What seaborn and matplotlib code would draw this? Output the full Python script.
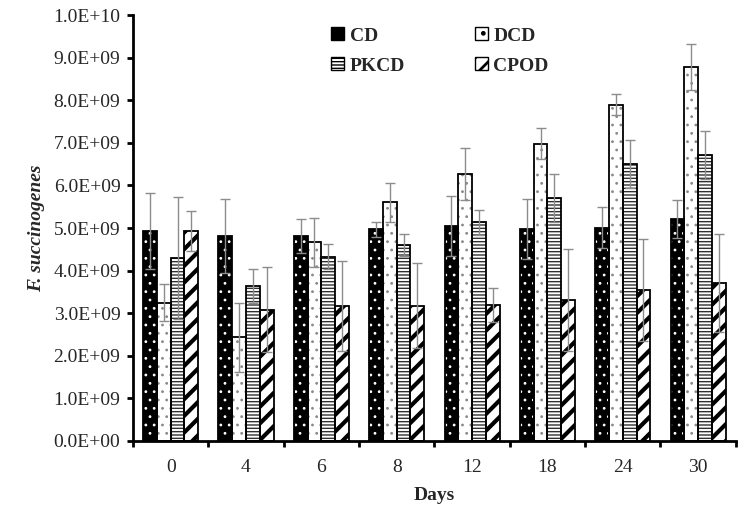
import numpy as np
import pandas as pd
import matplotlib
matplotlib.use('Agg')
import matplotlib.pyplot as plt
import seaborn as sns
from matplotlib.patches import Patch, Rectangle
from matplotlib.ticker import FuncFormatter, MultipleLocator

# data (counts, x1e9)
days = ['0', '4', '6', '8', '12', '18', '24', '30']
groups = ['CD', 'DCD', 'PKCD', 'CPOD']

cd = [4.93, 4.82, 4.82, 4.97, 5.05, 4.98, 5.01, 5.21]
cd_err = [0.90, 0.87, 0.40, 0.18, 0.70, 0.70, 0.48, 0.45]
dcd = [3.25, 2.43, 4.66, 5.60, 6.27, 6.98, 7.90, 8.78]
dcd_err = [0.44, 0.80, 0.58, 0.45, 0.62, 0.37, 0.24, 0.53]
pkcd = [4.30, 3.63, 4.33, 4.60, 5.13, 5.71, 6.50, 6.71]
pkcd_err = [1.44, 0.40, 0.30, 0.25, 0.30, 0.57, 0.57, 0.57]
cpod = [4.92, 3.08, 3.17, 3.18, 3.20, 3.31, 3.54, 3.71]
cpod_err = [0.47, 1.00, 1.05, 1.00, 0.40, 1.20, 1.20, 1.15]

scale = 1e9
values = {'CD': cd, 'DCD': dcd, 'PKCD': pkcd, 'CPOD': cpod}
errors = {'CD': cd_err, 'DCD': dcd_err, 'PKCD': pkcd_err, 'CPOD': cpod_err}

rows = []
for g in groups:
    for d, v in zip(days, values[g]):
        rows.append({'Days': d, 'Treatment': g, 'count': v * scale})
df = pd.DataFrame(rows)

# fill, hatch, hatch colour, hatch linewidth, legend hatch
styles = {
    'CD': ('black', '..', 'white', 0.8, '.'),
    'DCD': ('white', '..', '#8a8a8a', 0.8, '.'),
    'PKCD': ('white', '-----', '#303030', 1.0, '-----'),
    'CPOD': ('white', '//', 'black', 3.0, '//'),
}

sns.set_style('white')
plt.rcParams['font.family'] = ['Liberation Serif', 'DejaVu Serif']

fig = plt.figure(figsize=(7.47, 5.2), dpi=100)
ax = fig.add_axes([0.178, 0.152, 0.807, 0.819])

sns.barplot(data=df, x='Days', y='count', hue='Treatment', order=days,
            hue_order=groups, errorbar=None, width=0.73, legend=False, ax=ax)


def style_bar(p, g):
    face, hatch, hcol, hlw, _ = styles[g]
    p.set_facecolor(face)
    p.set_hatch(hatch)
    p.set_edgecolor(hcol)
    p.set_linewidth(0)
    try:
        p.set_hatch_linewidth(hlw)
    except AttributeError:
        pass


for cont, g in zip(ax.containers, groups):
    xs, ys = [], []
    for p in cont.patches:
        style_bar(p, g)
        ax.add_patch(Rectangle((p.get_x(), 0), p.get_width(), p.get_height(),
                               fill=False, edgecolor='black', linewidth=1.3,
                               zorder=2.5))
        xs.append(p.get_x() + p.get_width() / 2)
        ys.append(p.get_height())
    ax.errorbar(xs, ys, yerr=np.array(errors[g]) * scale, fmt='none',
                ecolor='#8c8c8c', elinewidth=1.0, capsize=3.5, capthick=1.0,
                zorder=3)

# axes
ax.set_ylim(0, 1e10)
ax.set_xlim(-0.5, len(days) - 0.5)
ax.yaxis.set_major_locator(MultipleLocator(1e9))
ax.yaxis.set_major_formatter(FuncFormatter(lambda v, pos: '{:.1E}'.format(v)))
ax.set_xticks(np.arange(-0.5, len(days), 1.0))
ax.set_xticklabels([])
ax.set_xticks(np.arange(len(days)), minor=True)
ax.set_xticklabels(days, minor=True)
ax.tick_params(axis='x', which='major', direction='out', length=4, width=2,
               color='black', bottom=True)
ax.tick_params(axis='x', which='minor', length=0, pad=13, labelsize=14)
ax.tick_params(axis='y', direction='out', length=4, width=2, color='black',
               left=True, labelsize=14, pad=5)

for s in ['top', 'right']:
    ax.spines[s].set_visible(False)
for s in ['left', 'bottom']:
    ax.spines[s].set_color('black')
    ax.spines[s].set_linewidth(2)

ax.set_xlabel('Days', fontsize=14, fontweight='bold', labelpad=8)
ax.set_ylabel('F. succinogenes', fontsize=14, fontweight='bold',
              fontstyle='italic', labelpad=6)

# legend
handles = {}
for g in groups:
    face, hatch, hcol, hlw, lhatch = styles[g]
    handles[g] = Patch(facecolor=face, edgecolor='black', hatch=lhatch,
                       linewidth=1.0)
order = ['CD', 'PKCD', 'DCD', 'CPOD']
leg = ax.legend([handles[g] for g in order], order, ncol=2, frameon=False,
                loc='upper left', bbox_to_anchor=(0.438, 0.955),
                bbox_transform=fig.transFigure, prop={'weight': 'bold', 'size': 14},
                handlelength=0.65, handleheight=0.65, handletextpad=0.3,
                columnspacing=3.6, labelspacing=0.65, borderaxespad=0,
                borderpad=0.2)
for h in leg.legend_handles:
    try:
        h.set_hatch_linewidth(2.0 if h.get_hatch() == '//' else 1.0)
    except AttributeError:
        pass

fig.savefig('out.png', dpi=100)
